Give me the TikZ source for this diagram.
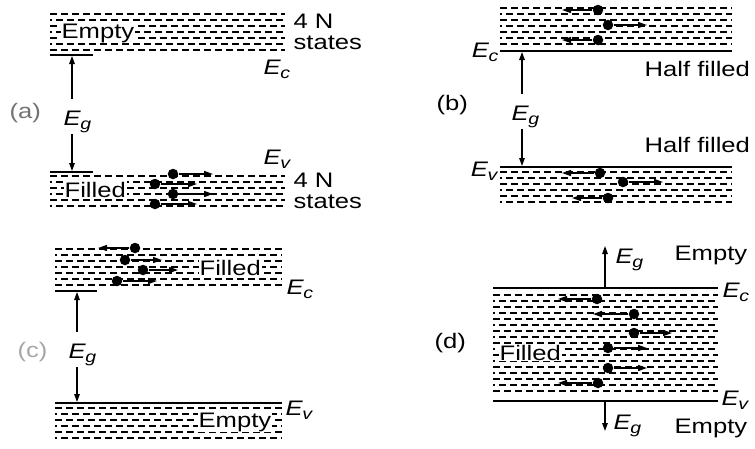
\documentclass[tikz,border=0pt]{standalone}
\usepackage{fontspec}
\setmainfont{Liberation Sans}[FakeStretch=1.22]
\usetikzlibrary{arrows.meta}
\newcommand\lev[1]{\textit{E}\kern-0.5pt\raisebox{-4.5pt}{\fontsize{16}{16}\selectfont\textit{#1}}}
\tikzset{
  every picture/.style={line width=1.2pt},
  rowdash/.style={line width=1.1pt, dash pattern=on 7pt off 4pt},
  level/.style={line width=1.6pt},
  elec/.style={circle, fill=black, inner sep=0pt, minimum size=10.5pt},
  move/.style={-{Triangle[length=9pt,width=6pt]}, line width=1.5pt},
  gap/.style={-{Triangle[length=8pt,width=5.5pt]}, line width=1.3pt},
  tag/.style={anchor=base west, fill=white, inner sep=1pt},
  lbl/.style={anchor=base west, inner sep=1pt},
}

\begin{document}
\begin{tikzpicture}[x=1pt, y=-1pt, font=\fontsize{21}{23}\selectfont]
  \useasboundingbox (0,0) rectangle (755,448);
  % bands of states: rows of dashes
  \foreach \xa/\xb/\ya/\n in {50/285/14/6, 50/285/176/5, 500/732/8/6, 500/732/172/5,
                              55/282/249/6, 55/282/408/5, 493/718/295/16} {
    \foreach \k in {0,...,\n} {
      \pgfmathtruncatemacro\ph{mod(\k,2)*5}
      \draw[rowdash, dash phase=\ph pt] (\xa,{\ya+6*\k}) -- (\xb,{\ya+6*\k});
    }
  }
  % band edges
  \draw[level] (50,55) -- (93,55);
  \draw[level] (50,172) -- (93,172);
  \draw[level] (500,51) -- (732,51);
  \draw[level] (500,167) -- (732,167);
  \draw[level] (55,291) -- (97,291);
  \draw[level] (55,403) -- (282,403);
  \draw[level] (493,288) -- (718,288);
  \draw[level] (493,401) -- (718,401);

  % (a) insulator
  \node[lbl, text=black!55] (pa) at (8,118) {(a)};
  \node[tag] (ae) at (60,38) {Empty};
  \node[tag] (af) at (63,197) {Filled};
  \node[lbl] (an1) at (292,28) {4 N};
  \node[lbl] (an2) at (292,49) {states};
  \node[lbl] (an3) at (292,187) {4 N};
  \node[lbl] (an4) at (292,208) {states};
  \node[lbl] (ac) at (262,74) {\lev{c}};
  \node[lbl] (av) at (262,164) {\lev{v}};
  \node[lbl] (ag) at (62,125) {\lev{g}};
  \coordinate (a-up) at (72,56);
  \coordinate (a-dn) at (72,171);
  \draw[gap] ([yshift=10pt]ag.north -| a-up) -- (a-up);
  \draw[gap] (ag.south -| a-dn) -- (a-dn);

  % (b) metal, half filled
  \node[lbl] (pb) at (435,110) {(b)};
  \node[lbl, anchor=base east] (bc) at (500,57) {\lev{c}};
  \node[lbl, anchor=base east] (bv) at (500,176) {\lev{v}};
  \node[lbl] (bh1) at (643,76) {Half filled};
  \node[lbl] (bh2) at (643,152) {Half filled};
  \node[lbl] (bg) at (510,120) {\lev{g}};
  \coordinate (b-up) at (522,52);
  \coordinate (b-dn) at (522,166);
  \draw[gap] ([yshift=10pt]bg.north -| b-up) -- (b-up);
  \draw[gap] (bg.south -| b-dn) -- (b-dn);

  % (c) filled conduction band
  \node[lbl, text=black!35] (pc) at (16,357) {(c)};
  \node[tag] (cf) at (198,275) {Filled};
  \node[tag] (ce) at (197,427) {Empty};
  \node[lbl] (cc) at (285,294) {\lev{c}};
  \node[lbl] (cv) at (284,415) {\lev{v}};
  \node[lbl] (cg) at (67,358) {\lev{g}};
  \coordinate (c-up) at (77,292);
  \coordinate (c-dn) at (77,402);
  \draw[gap] ([yshift=10pt]cg.north -| c-up) -- (c-up);
  \draw[gap] (cg.south -| c-dn) -- (c-dn);

  % (d) overlapping bands
  \node[lbl] (pd) at (433,348) {(d)};
  \node[tag] (df) at (498,360) {Filled};
  \node[lbl] (dc) at (721,297) {\lev{c}};
  \node[lbl] (dv) at (720,405) {\lev{v}};
  \node[lbl] (dg1) at (614,263) {\lev{g}};
  \node[lbl] (dg2) at (612,429) {\lev{g}};
  \node[lbl] (de1) at (673,260) {Empty};
  \node[lbl] (de2) at (673,433) {Empty};
  \coordinate (d-top) at (605,288);
  \coordinate (d-tip) at (605,246);
  \coordinate (d-bot) at (605,401);
  \coordinate (d-end) at (605,431);
  \draw[gap] (d-top) -- (d-tip);
  \draw[gap] (d-bot) -- (d-end);

  % electrons and their motion
  \foreach \n/\x/\y/\t in {a1/173/174/213, a2/155/184/197, a3/173/194/213, a4/155/204/197,
                           b1/598/10/562, b2/608/25/647, b3/598/40/562,
                           b4/600/173/562, b5/623/182/663, b6/608/198/572,
                           c1/135/248/98, c2/125/260/162, c3/143/270/178, c4/117/281/157,
                           d1/597/299/558, d2/634/314/593, d3/634/333/672,
                           d4/608/348/647, d5/608/368/647, d6/598/383/558} {
    \node[elec] (\n) at (\x,\y) {};
    \coordinate (\n-t) at (\t,\y);
    \draw[move] (\n) -- (\n-t);
  }
\end{tikzpicture}
\end{document}
